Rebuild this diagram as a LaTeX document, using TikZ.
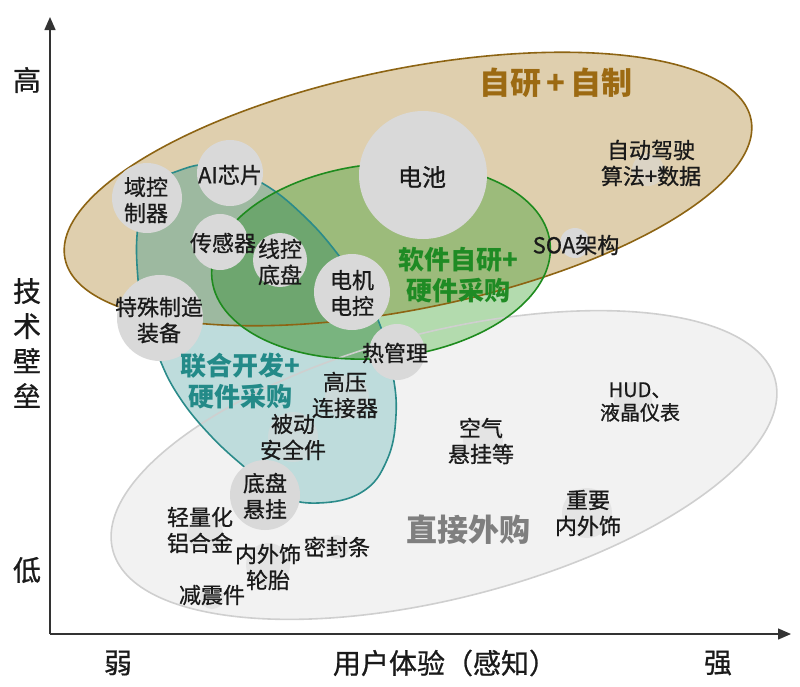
\documentclass[tikz,border=0pt]{standalone}
\usepackage{fontspec}
\setmainfont{Noto Sans CJK SC}[UprightFeatures={FakeBold=0.8}]
\usetikzlibrary{arrows.meta}
\definecolor{grayFill}{HTML}{F2F2F2}
\definecolor{grayLine}{HTML}{CFCFCF}
\definecolor{grayText}{HTML}{7F7F7F}
\definecolor{brownFill}{HTML}{DFCFAE}
\definecolor{brownLine}{HTML}{8D6413}
\definecolor{brownText}{HTML}{9C6A12}
\definecolor{tealFill}{HTML}{BEDCDC}
\definecolor{tealBrown}{HTML}{9DB9A0}
\definecolor{tealLine}{HTML}{2B8B8A}
\definecolor{tealText}{HTML}{238A88}
\definecolor{greenFill}{HTML}{B3DBAE}
\definecolor{greenBrown}{HTML}{9CBB7B}
\definecolor{greenTeal}{HTML}{79B47F}
\definecolor{greenAll}{HTML}{6EA66F}
\definecolor{greenLine}{HTML}{1E8B1E}
\definecolor{greenText}{HTML}{1F8B24}
\definecolor{circ}{HTML}{D9D9D9}
\definecolor{axisCol}{HTML}{333333}
\definecolor{txt}{HTML}{1A1A1A}
\begin{document}
\begin{tikzpicture}[x=1pt,y=-1pt,
  brownT/.style={rotate around={11.5:(408,189)}},
  greenT/.style={rotate around={6:(381,261)}},
  grayT/.style={rotate around={14.4:(444,465)}},
  bubble/.style={circle, fill=circ, draw=none, inner sep=0pt},
  faint/.style={circle, fill=circ, fill opacity=0.55, draw=none, inner sep=0pt},
  lbl/.style={align=center, inner sep=0pt, text=txt, font=\fontsize{22}{26}\selectfont},
  small/.style={align=center, inner sep=0pt, text=txt, font=\fontsize{20}{23}\selectfont},
  axlbl/.style={inner sep=0pt, text=txt, font=\fontsize{28}{34}\selectfont},
  axisline/.style={line width=1.4pt, draw=axisCol, -{Triangle[length=13pt,width=11pt]}},
  cat/.style={align=center, inner sep=0pt, font=\bfseries\fontsize{26}{31}\selectfont},
  border/.style={line width=1.6pt}
]
\useasboundingbox (0,0) rectangle (800,686);
\def\brownE{(408,189) ellipse [x radius=350, y radius=120]}
\def\greenE{(381,261) ellipse [x radius=170, y radius=97]}
\def\grayE{(444,465) ellipse [x radius=342, y radius=133]}
\def\tealS{plot[smooth cycle, tension=0.7] coordinates {(145,190) (175,172) (215,165) (262,183) (305,217) (340,257) (362,290) (380,325) (392,370) (396,415) (387,460) (362,492) (318,503) (280,495) (248,470) (210,435) (178,395) (158,355) (143,310) (137,265) (138,225)}}
% fills
\fill[grayFill, grayT] \grayE;
\fill[brownFill, brownT] \brownE;
\fill[tealFill] \tealS;
\begin{scope}
  \clip \tealS;
  \fill[tealBrown, brownT] \brownE;
\end{scope}
\fill[greenFill, greenT] \greenE;
\begin{scope}
  \clip[greenT] \greenE;
  \fill[greenBrown, brownT] \brownE;
\end{scope}
\begin{scope}
  \clip[greenT] \greenE;
  \clip \tealS;
  \fill[greenTeal] (0,0) rectangle (800,686);
  \fill[greenAll, brownT] \brownE;
\end{scope}
% borders
\draw[border, grayLine, grayT] \grayE;
\draw[border, brownLine, brownT] \brownE;
\draw[border, tealLine] \tealS;
\draw[border, greenLine, greenT] \greenE;
% bubbles
\node[bubble, minimum size=128pt] (bBat) at (423,175) {};
\node[bubble, minimum size=66pt] (bAI) at (230,173) {};
\node[bubble, minimum size=70pt] (bDom) at (147,198) {};
\node[bubble, minimum size=56pt] (bSen) at (220,242) {};
\node[bubble, minimum size=54pt] (bWire) at (280,260) {};
\node[bubble, minimum size=76pt] (bMot) at (352,292) {};
\node[bubble, minimum size=86pt] (bSpec) at (160,318) {};
\node[bubble, minimum size=56pt] (bHeat) at (397,352) {};
\node[bubble, minimum size=30pt] (bSOA) at (575,243) {};
\node[bubble, minimum size=70pt] (bChas) at (265,495) {};
\node[faint, minimum size=32pt] (bAuto) at (648,170) {};
\node[faint, minimum size=44pt] (bHV) at (347,397) {};
\node[faint, minimum size=50pt] (bPas) at (293,437) {};
\node[faint, minimum size=40pt] (bAir) at (483,440) {};
\node[faint, minimum size=38pt] (bHUD) at (633,401) {};
\node[faint, minimum size=50pt] (bTrim) at (587,513) {};
\node[faint, minimum size=36pt] (bAl) at (205,533) {};
\node[faint, minimum size=44pt] (bTire) at (268,565) {};
\node[faint, minimum size=24pt] (bSeal) at (337,547) {};
\node[faint, minimum size=24pt] (bDamp) at (212,597) {};
% axes
\coordinate (O) at (50,634);
\coordinate (yTop) at (50,17);
\coordinate (xEnd) at (791,634);
\draw[axisline] (O) -- (yTop);
\draw[axisline] (O) -- (xEnd);
\node[axlbl] (aHigh) at (27,80) {高};
\node[axlbl, align=center, font=\fontsize{28}{35}\selectfont] (aTech) at (27,343) {技\\术\\壁\\垒};
\node[axlbl] (aLow) at (27,570) {低};
\node[axlbl] (aWeak) at (118,663) {弱};
\node[axlbl] (aUX) at (445,663) {用户体验（感知）};
\node[axlbl] (aStrong) at (718,663) {强};
% category labels
\node[cat, text=brownText, font=\bfseries\fontsize{31}{34}\selectfont] (tSelf) at (556,83) {自研\,+\,自制};
\node[cat, text=greenText] (tSoft) at (458,275) {软件自研+\\硬件采购};
\node[cat, text=tealText] (tJoint) at (240,381) {联合开发+\\硬件采购};
\node[cat, text=grayText, font=\bfseries\fontsize{31}{34}\selectfont] (tBuy) at (468,530) {直接外购};
% item labels
\node[lbl, font=\fontsize{24}{28}\selectfont] (lBat) at (422,177) {电池};
\node[lbl] (lAI) at (230,175) {AI芯片};
\node[lbl] (lDom) at (146,200) {域控\\制器};
\node[lbl] (lSen) at (223,243) {传感器};
\node[lbl] (lWire) at (280,262) {线控\\底盘};
\node[lbl] (lMot) at (352,293) {电机\\电控};
\node[lbl] (lSpec) at (159,320) {特殊制造\\装备};
\node[lbl] (lHeat) at (395,353) {热管理};
\node[lbl] (lAuto) at (651,163) {自动驾驶\\算法+数据};
\node[lbl] (lSOA) at (576,245) {SOA架构};
\node[lbl] (lHV) at (345,395) {高压\\连接器};
\node[lbl] (lPas) at (293,437) {被动\\安全件};
\node[lbl] (lChas) at (265,496) {底盘\\悬挂};
\node[lbl] (lAl) at (200,530) {轻量化\\铝合金};
\node[lbl] (lTire) at (268,567) {内外饰\\轮胎};
\node[lbl] (lSeal) at (337,547) {密封条};
\node[lbl] (lDamp) at (212,595) {减震件};
\node[lbl] (lAir) at (481,441) {空气\\悬挂等};
\node[small] (lHUD) at (640,402) {HUD、\\液晶仪表};
\node[lbl] (lTrim) at (588,513) {重要\\内外饰};
\end{tikzpicture}
\end{document}
